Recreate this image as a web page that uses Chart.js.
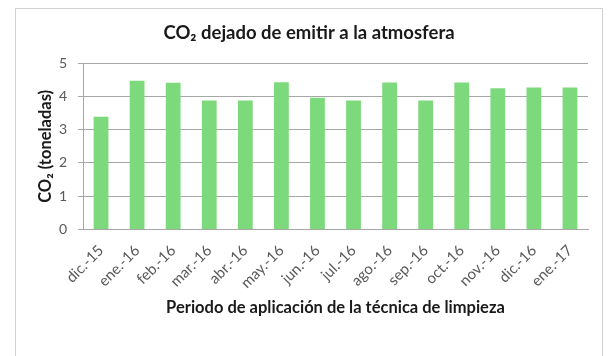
<!DOCTYPE html>
<html>
<head>
<meta charset="utf-8">
<script src="https://cdn.jsdelivr.net/npm/chart.js@4"></script>
<style>
html,body{margin:0;padding:0;background:#fff;}
#wrap{position:relative;width:608px;height:356px;}
</style>
</head>
<body>
<div id="wrap"><canvas id="c" width="608" height="356"></canvas></div>
<script>
const categories = ["dic.-15","ene.-16","feb.-16","mar.-16","abr.-16","may.-16","jun.-16","jul.-16","ago.-16","sep.-16","oct.-16","nov.-16","dic.-16","ene.-17"];
const co2Values = [3.39, 4.47, 4.41, 3.88, 3.88, 4.43, 3.96, 3.88, 4.42, 3.88, 4.42, 4.25, 4.27, 4.27];
const yTicks = [0, 1, 2, 3, 4, 5];

const FONT = "Lato, 'Open Sans', sans-serif";

const borderPlugin = {
  id: 'outerBorder',
  beforeDraw(chart) {
    const ctx = chart.ctx;
    ctx.save();
    ctx.fillStyle = '#ffffff';
    ctx.fillRect(0, 0, chart.width, chart.height);
    ctx.strokeStyle = '#d0d0d0';
    ctx.lineWidth = 1;
    ctx.strokeRect(15.5, 8.5, 587, 400);
    ctx.restore();
  }
};

new Chart(document.getElementById('c'), {
  type: 'bar',
  data: {
    labels: categories,
    datasets: [{
      data: co2Values,
      backgroundColor: 'rgb(124, 218, 124)',
      borderWidth: 0,
      categoryPercentage: 1.0,
      barPercentage: 0.41
    }]
  },
  options: {
    responsive: false,
    animation: false,
    devicePixelRatio: 1,
    layout: { padding: { left: 30, right: 20, top: 0, bottom: 38 } },
    plugins: {
      legend: { display: false },
      tooltip: { enabled: false },
      title: {
        display: true,
        text: 'CO\u2082 dejado de emitir a la atmosfera',
        color: '#1a1a1a',
        font: { family: FONT, size: 18.5, weight: 'bold' },
        padding: { top: 22, bottom: 19 }
      }
    },
    scales: {
      x: {
        afterFit(scale) { scale.height = 88.5; },
        grid: { display: false, drawTicks: false },
        border: { display: true, color: '#a6a6a6', width: 1 },
        ticks: {
          color: '#595959',
          font: { family: FONT, size: 15 },
          minRotation: 45,
          maxRotation: 45,
          padding: 12,
          autoSkip: false
        },
        title: {
          display: true,
          text: 'Periodo de aplicación de la técnica de limpieza',
          color: '#1a1a1a',
          font: { family: FONT, size: 16.5, weight: 'bold' },
          padding: { top: 0, bottom: 0 }
        }
      },
      y: {
        min: 0,
        max: 5,
        afterBuildTicks(scale) { scale.ticks = yTicks.map(v => ({ value: v })); },
        afterFit(scale) { scale.width = 53; },
        grid: { color: '#a6a6a6', lineWidth: 1, tickLength: 5, drawTicks: true },
        border: { display: true, color: '#a6a6a6', width: 1 },
        ticks: {
          color: '#595959',
          font: { family: FONT, size: 14 },
          padding: 11
        },
        title: {
          display: true,
          text: 'CO\u2082 (toneladas)',
          color: '#1a1a1a',
          font: { family: FONT, size: 16.5, weight: 'bold' },
          padding: { top: 6, bottom: 4 }
        }
      }
    }
  },
  plugins: [borderPlugin]
});
</script>
</body>
</html>
